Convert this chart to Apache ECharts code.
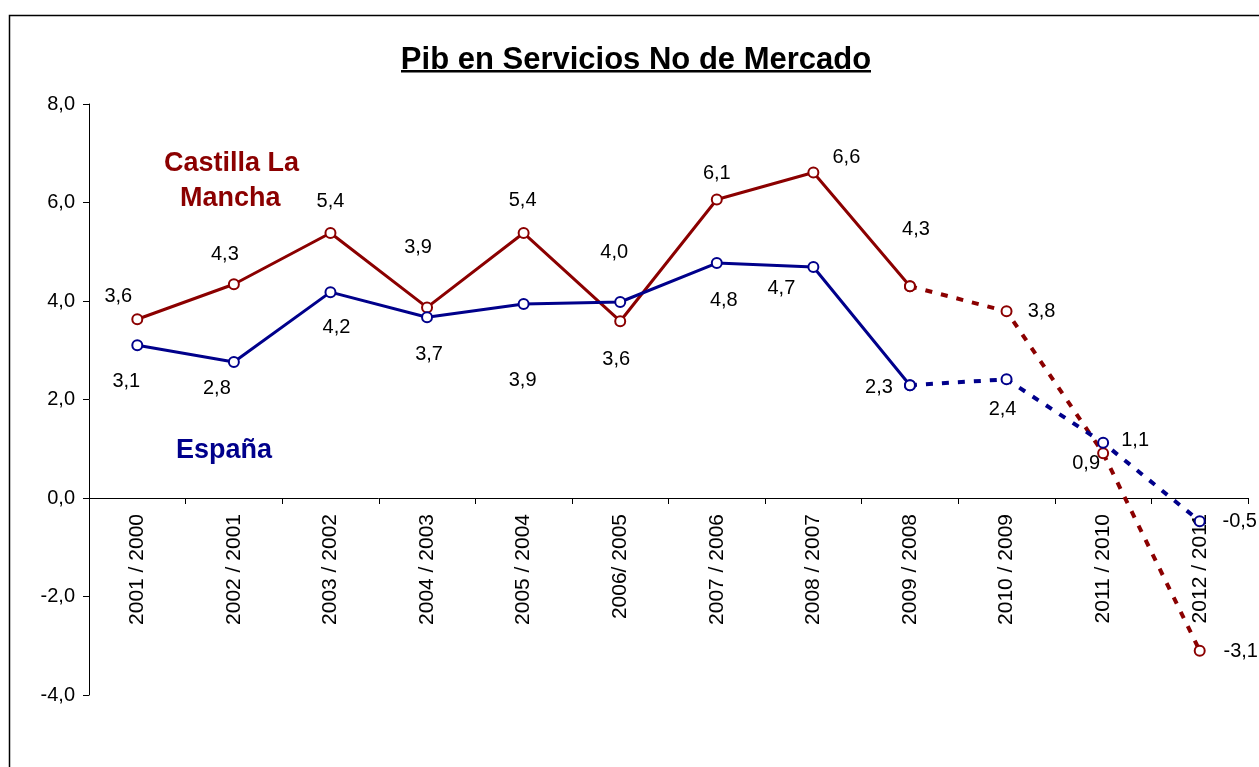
<!DOCTYPE html>
<html>
<head>
<meta charset="utf-8">
<title>Pib en Servicios No de Mercado</title>
<script src="https://cdn.jsdelivr.net/npm/echarts@6/dist/echarts.min.js"></script>
<style>
  html, body { margin: 0; padding: 0; background: #fff; }
  #main { width: 1259px; height: 767px; }
</style>
</head>
<body>
<div id="main"></div>
<script>
// datos
var periodos = ['2001 / 2000', '2002 / 2001', '2003 / 2002', '2004 / 2003', '2005 / 2004', '2006/ 2005',
  '2007 / 2006', '2008 / 2007', '2009 / 2008', '2010 / 2009', '2011 / 2010', '2012 / 2011'];
var castilla = [3.63, 4.34, 5.38, 3.87, 5.38, 3.59, 6.06, 6.61, 4.30, 3.79, 0.91, -3.10];
var espana = [3.10, 2.76, 4.18, 3.67, 3.94, 3.98, 4.77, 4.69, 2.29, 2.41, 1.12, -0.47];
var ultimoReal = 8; // a partir de aqui linea discontinua
var yTicks = [-4, -2, 0, 2, 4, 6, 8];

// posicion de las etiquetas respecto al punto
var offCastilla = [[-19,-23],[-9,-30],[0,-32],[-9,-60],[-1,-33],[-4,38],[0,-26],[33,-15],[6,-57],[35,0],[-17,10],[41,1]];
var offEspana = [[-11,36],[-17,26],[6,35],[2,37],[-1,77],[-6,-50],[7,37],[-32,21],[-31,2],[-4,30],[32,-2],[40,0]];

var rojo = '#8B0000';
var azul = '#00008B';
var fuente = '"Liberation Sans", Arial, sans-serif';

// alto del grid: de 104 a 695, el eje x va en el cero
var gridTop = 104, gridBottom = 695;
var yCero = gridTop + (gridBottom - gridTop) * yTicks[yTicks.length - 1] / (yTicks[yTicks.length - 1] - yTicks[0]);

function fmt(v) { return v.toFixed(1).replace('.', ','); }

function tramo(valores, offsets, desde, hasta, conEtiqueta) {
  return valores.map(function (v, i) {
    if (i < desde || i > hasta) return null;
    return {
      value: v,
      label: {
        show: conEtiqueta(i),
        position: 'inside',
        offset: offsets[i],
        formatter: fmt(v)
      }
    };
  });
}

function serie(nombre, color, data, discontinua) {
  return {
    name: nombre,
    type: 'line',
    data: data,
    symbol: 'emptyCircle',
    symbolSize: 10,
    connectNulls: false,
    lineStyle: { color: color, width: discontinua ? 4 : 3, type: discontinua ? [7, 9] : 'solid' },
    itemStyle: { color: color, borderColor: color, borderWidth: 1.5 },
    label: { color: '#000', fontSize: 20, fontFamily: fuente },
    emphasis: { disabled: true },
    animation: false
  };
}

var myChart = echarts.init(document.getElementById('main'));

var option = {
  backgroundColor: '#fff',
  title: {
    text: 'Pib en Servicios No de Mercado',
    left: 631,
    top: 40,
    textAlign: 'center',
    textStyle: { fontSize: 31, fontWeight: 'bold', color: '#000', fontFamily: fuente }
  },
  grid: { left: 89, right: 11, top: gridTop, bottom: 767 - gridBottom, containLabel: false, outerBoundsMode: 'none' },
  xAxis: {
    type: 'category',
    data: periodos,
    boundaryGap: true,
    position: 'bottom',
    offset: -(gridBottom - yCero),
    axisLine: { onZero: false, lineStyle: { color: '#000', width: 1 } },
    axisTick: { show: true, alignWithLabel: false, length: 6, lineStyle: { color: '#000' } },
    axisLabel: { rotate: 90, fontSize: 21, color: '#000', fontFamily: fuente, margin: 16, interval: 0 },
    splitLine: { show: false }
  },
  yAxis: {
    type: 'value',
    min: yTicks[0],
    max: yTicks[yTicks.length - 1],
    interval: 2,
    axisLine: { show: true, onZero: false, lineStyle: { color: '#000', width: 1 } },
    axisTick: { show: true, length: 6, lineStyle: { color: '#000' } },
    axisLabel: { fontSize: 20, color: '#000', fontFamily: fuente, margin: 14, formatter: fmt },
    splitLine: { show: false }
  },
  graphic: [
    { type: 'rect', shape: { x: 9.5, y: 15.5, width: 1400, height: 900 },
      style: { fill: 'none', stroke: '#000', lineWidth: 1.5 }, silent: true },
    { type: 'rect', shape: { x: 401, y: 70, width: 470, height: 2.5 },
      style: { fill: '#000' }, silent: true },
    { type: 'text', left: 164, top: 150,
      style: { text: 'Castilla La', fill: rojo, font: 'bold 27px ' + fuente } },
    { type: 'text', left: 180, top: 185,
      style: { text: 'Mancha', fill: rojo, font: 'bold 27px ' + fuente } },
    { type: 'text', left: 176, top: 437,
      style: { text: 'España', fill: azul, font: 'bold 27px ' + fuente } }
  ],
  series: [
    serie('Castilla La Mancha', rojo,
      tramo(castilla, offCastilla, 0, ultimoReal, function () { return true; }), false),
    serie('Castilla La Mancha prev', rojo,
      tramo(castilla, offCastilla, ultimoReal, castilla.length - 1, function (i) { return i > ultimoReal; }), true),
    serie('España', azul,
      tramo(espana, offEspana, 0, ultimoReal, function () { return true; }), false),
    serie('España prev', azul,
      tramo(espana, offEspana, ultimoReal, espana.length - 1, function (i) { return i > ultimoReal; }), true)
  ]
};

myChart.setOption(option);
window.addEventListener('resize', function () { myChart.resize(); });
</script>
</body>
</html>
